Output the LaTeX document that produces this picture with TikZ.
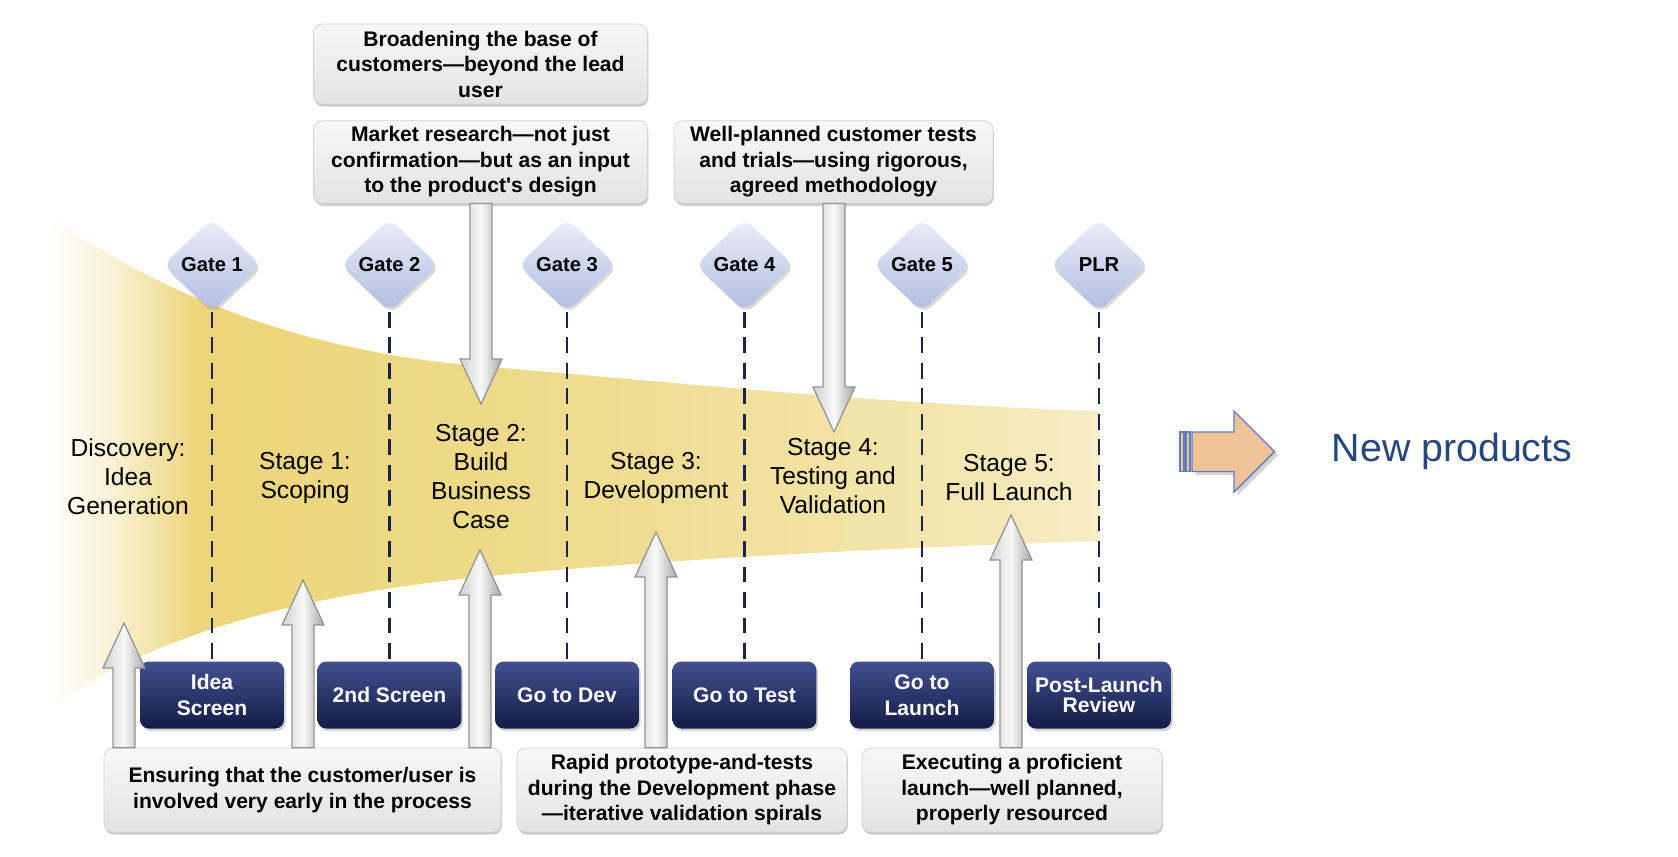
\documentclass[tikz,border=0pt]{standalone}
\usepackage{fontspec}
\setmainfont{Liberation Sans}
\usetikzlibrary{shapes.geometric,shadows,calc,positioning}

\definecolor{bandyellow}{RGB}{236,213,122}
\colorlet{bandpale}{bandyellow!30!white}
\colorlet{bandmid}{bandyellow!88!white}
\colorlet{bandlight}{bandyellow!60!white}
\colorlet{bandend}{bandyellow!42!white}
\definecolor{gatetop}{RGB}{236,239,249}
\definecolor{gatebot}{RGB}{176,188,224}
\definecolor{navytop}{RGB}{66,80,145}
\definecolor{navybot}{RGB}{20,28,70}
\definecolor{dashnavy}{RGB}{28,35,75}
\definecolor{peach}{RGB}{240,195,150}
\definecolor{arrowblue}{RGB}{90,126,190}
\definecolor{newblue}{RGB}{38,70,125}

\pgfdeclarehorizontalshading{funnel}{100bp}{color(0bp)=(white); color(25bp)=(white); color(28bp)=(bandpale); color(32bp)=(bandyellow); color(48bp)=(bandmid); color(68bp)=(bandlight); color(75bp)=(bandend); color(100bp)=(bandend)}

\tikzset{
  gatediamond/.style={diamond, rounded corners=6pt, top color=gatetop, bottom color=gatebot,
    minimum width=1.96cm, minimum height=1.86cm, inner sep=1pt,
    font=\fontsize{11.5}{13}\selectfont\bfseries,
    drop shadow={shadow xshift=1pt, shadow yshift=-1.5pt, opacity=.3}},
  gatebox/.style={rounded corners=5pt, top color=navytop, bottom color=navybot, text=white,
    align=center, minimum width=2.88cm, minimum height=1.34cm,
    font=\fontsize{12}{14.5}\selectfont\bfseries,
    drop shadow={shadow xshift=1pt, shadow yshift=-1.5pt, opacity=.35}},
  notebox/.style={rounded corners=5pt, top color=gray!6, bottom color=gray!22, draw=gray!35,
    align=center, font=\fontsize{12}{14.5}\selectfont\bfseries,
    drop shadow={shadow xshift=.5pt, shadow yshift=-1.5pt, opacity=.4}},
  stagetext/.style={align=center, font=\fontsize{14}{16.5}\selectfont},
  gateline/.style={dashnavy, line width=1.4pt, dash pattern=on 9pt off 5.5pt},
  grayarrow/.style={draw=gray!85, line width=.7pt, left color=gray!35, right color=gray!68, middle color=gray!6}
}

% tail, tip, signed head length
\newcommand{\blockarrow}[3]{%
  \path[grayarrow] ($(#1)+(-11,0)$) -- ($(#2)+(-11,#3)$) -- ($(#2)+(-21,#3)$) -- (#2)
    -- ($(#2)+(21,#3)$) -- ($(#2)+(11,#3)$) -- ($(#1)+(11,0)$) -- cycle;}

\begin{document}
\begin{tikzpicture}[x=0.02cm,y=-0.02cm]
    \useasboundingbox (0,0) rectangle (1678,856);
    % funnel
    \shade[shading=funnel] (48,214) .. controls (150,290) and (300,352) .. (480,366)
        .. controls (700,385) and (900,405) .. (1100,411) -- (1100,541)
        .. controls (900,547) and (650,560) .. (480,577)
        .. controls (320,593) and (150,630) .. (48,712) -- cycle;
    % gates
    \node[gatediamond] (g1) at (212,265) {Gate 1};
    \node[gatediamond] (g2) at (389.5,265) {Gate 2};
    \node[gatediamond] (g3) at (567,265) {Gate 3};
    \node[gatediamond] (g4) at (744.5,265) {Gate 4};
    \node[gatediamond] (g5) at (922,265) {Gate 5};
    \node[gatediamond] (g6) at (1099,265) {PLR};
    \node[gatebox] (d1) at (212,695) {Idea\\Screen};
    \node[gatebox] (d2) at (389.5,695) {2nd Screen};
    \node[gatebox] (d3) at (567,695) {Go to Dev};
    \node[gatebox] (d4) at (744.5,695) {Go to Test};
    \node[gatebox] (d5) at (922,695) {Go to\\Launch};
    \node[gatebox, font=\fontsize{12}{11.5}\selectfont\bfseries] (d6) at (1099,695) {Post-Launch\\Review};
    \draw[gateline] (g1) -- (d1);
    \draw[gateline] (g2) -- (d2);
    \draw[gateline] (g3) -- (d3);
    \draw[gateline] (g4) -- (d4);
    \draw[gateline] (g5) -- (d5);
    \draw[gateline] (g6) -- (d6);
    % stages
    \node[stagetext] (s0) at (128,477) {Discovery:\\Idea\\Generation};
    \node[stagetext] (s1) at (305,478) {Stage 1:\\Scoping};
    \node[stagetext] (s2) at (481,477) {Stage 2:\\Build\\Business\\Case};
    \node[stagetext] (s3) at (656,478) {Stage 3:\\Development};
    \node[stagetext] (s4) at (833,476) {Stage 4:\\Testing and\\Validation};
    \node[stagetext] (s5) at (1009,478) {Stage 5:\\Full Launch};
    % notes
    \node[notebox, minimum width=6.68cm, minimum height=1.6cm] (n1) at (480.5,64)
        {Broadening the base of\\customers---beyond the lead\\user};
    \node[notebox, minimum width=6.68cm, minimum height=1.64cm] (n2) at (480.5,162)
        {Market research---not just\\confirmation---but as an input\\to the product\textquotesingle s design};
    \node[notebox, minimum width=6.38cm, minimum height=1.64cm] (n3) at (833.5,162)
        {Well-planned customer tests\\and trials---using rigorous,\\agreed methodology};
    \node[notebox, minimum width=7.94cm, minimum height=1.68cm] (b1) at (302.5,790)
        {Ensuring that the customer/user is\\involved very early in the process};
    \node[notebox, minimum width=6.6cm, minimum height=1.68cm] (b2) at (682,790)
        {Rapid prototype-and-tests\\during the Development phase\\---iterative validation spirals};
    \node[notebox, minimum width=6cm, minimum height=1.68cm] (b3) at (1012,790)
        {Executing a proficient\\launch---well planned,\\properly resourced};
    % gray arrows
    \coordinate (a1) at (124,623);
    \coordinate (a2) at (303,580);
    \coordinate (a3) at (480,550);
    \coordinate (a4) at (656,532);
    \coordinate (a5) at (1011,515);
    \coordinate (a6) at (481,404);
    \coordinate (a7) at (834,432);
    \coordinate (a1s) at (a1 |- b1.north);
    \coordinate (a2s) at (a2 |- b1.north);
    \coordinate (a3s) at (a3 |- b1.north);
    \coordinate (a4s) at (a4 |- b2.north);
    \coordinate (a5s) at (a5 |- b3.north);
    \coordinate (a6s) at (a6 |- n2.south);
    \coordinate (a7s) at (a7 |- n3.south);
    \blockarrow{a1s}{a1}{45}
    \blockarrow{a2s}{a2}{45}
    \blockarrow{a3s}{a3}{45}
    \blockarrow{a4s}{a4}{45}
    \blockarrow{a5s}{a5}{45}
    \blockarrow{a6s}{a6}{-45}
    \blockarrow{a7s}{a7}{-45}
    % output
    \path[draw=arrowblue, fill=peach, line width=.8pt, drop shadow={opacity=.35, shadow xshift=2pt, shadow yshift=-2pt}]
        (1192,432) -- (1234,432) -- (1234,411) -- (1274.5,451.5) -- (1234,492) -- (1234,471.5) -- (1192,471.5) -- cycle;
    \path[draw=arrowblue, fill=peach, line width=.8pt] (1180,432) rectangle (1184,471.5) (1186,432) rectangle (1190,471.5);
    \node[text=newblue, font=\fontsize{22.4}{26}\selectfont] (newprod) at (1452,451.5) {New products};
\end{tikzpicture}
\end{document}
